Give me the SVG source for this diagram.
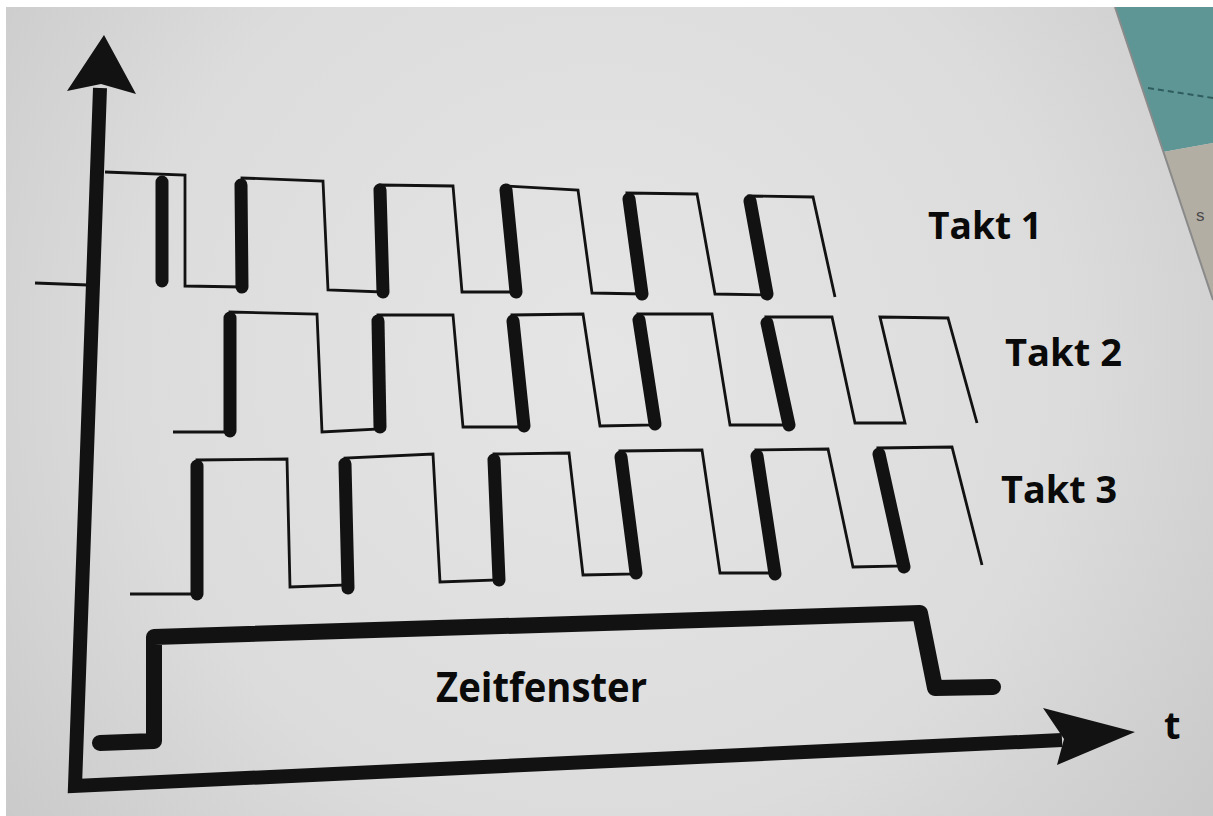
<svg xmlns="http://www.w3.org/2000/svg" width="1213" height="816" viewBox="0 0 1213 816">
  <defs>
    <radialGradient id="paper" cx="600" cy="360" r="780" gradientUnits="userSpaceOnUse">
      <stop offset="0" stop-color="#e5e5e5"/>
      <stop offset="0.6" stop-color="#dcdcdc"/>
      <stop offset="1" stop-color="#c8c8c8"/>
    </radialGradient>
    <style>
      .thin { fill: none; stroke: #121212; stroke-width: 2.8; stroke-linejoin: miter; }
      .bar { stroke: #121212; stroke-width: 13; stroke-linecap: round; }
      .axis { fill: none; stroke: #121212; stroke-width: 14; stroke-linejoin: miter; }
      .head { fill: #121212; }
      .window { fill: none; stroke: #121212; stroke-width: 16; stroke-linecap: round; stroke-linejoin: round; }
      .label { font-family: "Open Sans", "Liberation Sans", sans-serif; font-weight: 700; fill: #0a0a0a; }
    </style>
  </defs>

  <!-- paper and table -->
  <rect x="0" y="0" width="1213" height="816" fill="url(#paper)"/>
  <polygon points="1115,7 1213,7 1213,143 1163,152" fill="#5e9696"/>
  <polyline points="1148,88 1213,98" fill="none" stroke="#2f5c5c" stroke-width="2" stroke-dasharray="6 4"/>
  <polygon points="1163,152 1213,143 1213,300" fill="#b3aea4"/>
  <line x1="1115" y1="7" x2="1213" y2="300" stroke="#8a8a8a" stroke-width="2"/>
  <text x="1196" y="221" font-family="Liberation Sans, sans-serif" font-size="17" fill="#4a4a4a">s</text>
  <rect x="0" y="0" width="1213" height="7" fill="#ffffff"/>
  <rect x="0" y="0" width="6" height="816" fill="#ffffff"/>

  <!-- axes -->
  <g id="connectors">
    <polyline class="axis" points="100,88 75,786 1062,740"/>
    <polygon class="head" points="104,35 136,94 101,84 67,91"/>
    <polygon class="head" points="1135,732 1043,708 1064,739 1057,765"/>
    <line class="thin" x1="35" y1="283" x2="88" y2="285"/>
  </g>

  <!-- clock 1 -->
  <g id="takt1">
    <polyline class="thin" points="105,172 185,175 185,286 242,287 242,178 323,181 328,290 382,292 380,185 453,186 462,292 517,292 505,186 578,190 592,293 643,294 627,193 697,194 715,294 768,295 749,196 813,197 835,297"/>
    <line class="bar" x1="162" y1="182" x2="162" y2="281"/>
    <line class="bar" x1="241" y1="185" x2="242" y2="287"/>
    <line class="bar" x1="380" y1="190" x2="383" y2="292"/>
    <line class="bar" x1="506" y1="190" x2="516" y2="292"/>
    <line class="bar" x1="629" y1="199" x2="642" y2="294"/>
    <line class="bar" x1="750" y1="201" x2="767" y2="294"/>
  </g>

  <!-- clock 2 -->
  <g id="takt2">
    <polyline class="thin" points="173,432 230,432 230,312 317,314 322,432 380,429 378,315 453,315 463,427 524,427 512,315 583,314 600,426 655,425 638,314 712,314 730,425 789,425 766,317 832,317 855,423 905,423 880,317 948,318 977,423"/>
    <line class="bar" x1="230" y1="318" x2="230" y2="431"/>
    <line class="bar" x1="378" y1="321" x2="380" y2="427"/>
    <line class="bar" x1="513" y1="321" x2="524" y2="426"/>
    <line class="bar" x1="639" y1="320" x2="655" y2="424"/>
    <line class="bar" x1="767" y1="323" x2="789" y2="425"/>
  </g>

  <!-- clock 3 -->
  <g id="takt3">
    <polyline class="thin" points="130,594 197,594 197,460 287,459 290,587 348,585 345,458 433,454 440,582 498,580 494,454 569,453 583,575 636,574 620,451 702,450 720,573 775,573 756,450 828,449 853,567 904,566 878,448 952,447 982,565"/>
    <line class="bar" x1="197" y1="466" x2="197" y2="594"/>
    <line class="bar" x1="345" y1="464" x2="348" y2="588"/>
    <line class="bar" x1="494" y1="460" x2="499" y2="580"/>
    <line class="bar" x1="621" y1="457" x2="636" y2="573"/>
    <line class="bar" x1="757" y1="456" x2="775" y2="574"/>
    <line class="bar" x1="879" y1="454" x2="904" y2="567"/>
  </g>

  <!-- time window -->
  <g id="zeitfenster">
    <polyline class="window" points="100,743 154,741 154,637 920,613 935,688 993,687"/>
  </g>

  <!-- labels -->
  <g id="labels">
    <text class="label" x="928" y="239" font-size="38" textLength="114" lengthAdjust="spacingAndGlyphs">Takt 1</text>
    <text class="label" x="1005" y="366" font-size="38" textLength="117" lengthAdjust="spacingAndGlyphs">Takt 2</text>
    <text class="label" x="1001" y="503" font-size="38" textLength="116" lengthAdjust="spacingAndGlyphs">Takt 3</text>
    <text class="label" x="436" y="702" font-size="42" textLength="211" lengthAdjust="spacingAndGlyphs">Zeitfenster</text>
    <text class="label" x="1164" y="739" font-size="38">t</text>
  </g>
</svg>
